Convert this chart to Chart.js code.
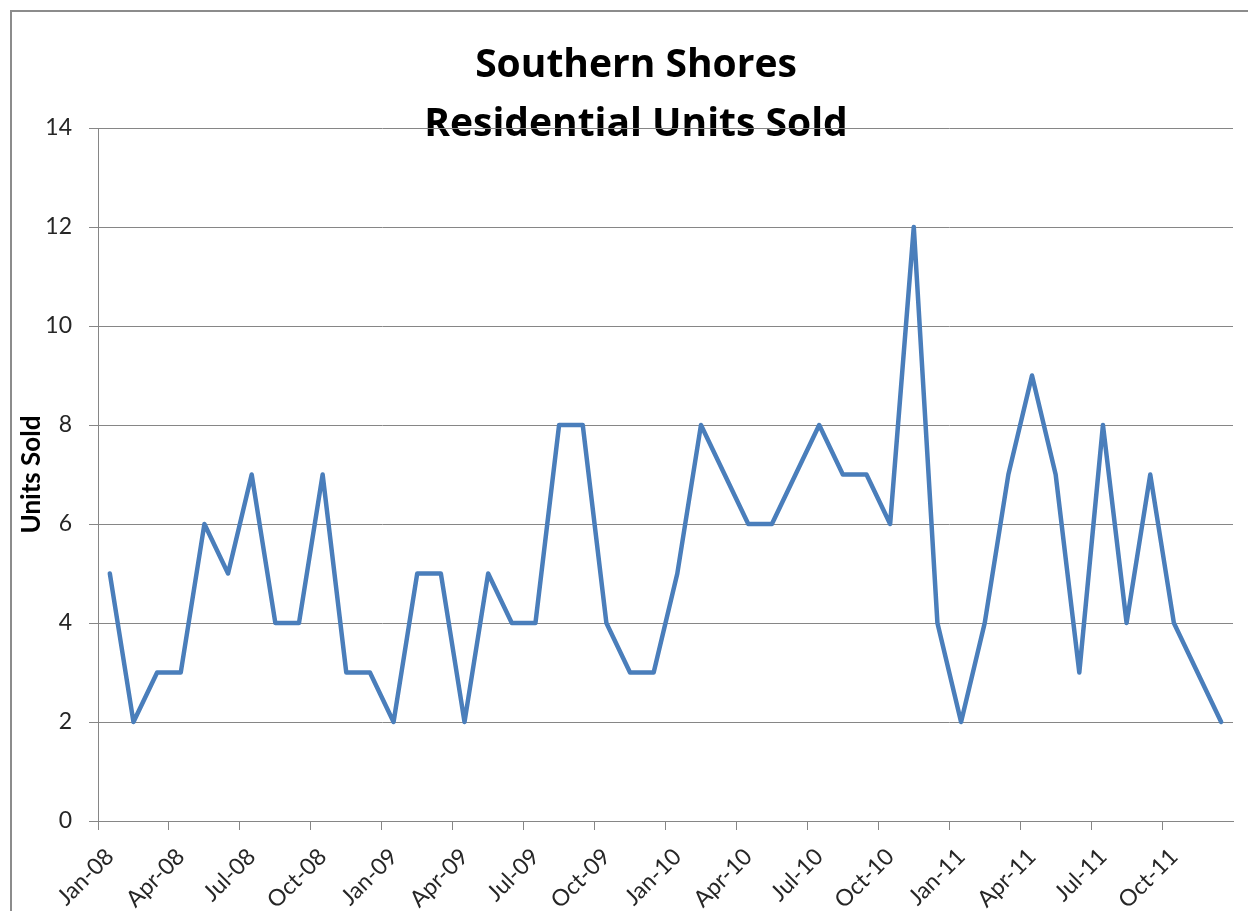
<!DOCTYPE html>
<html>
<head>
<meta charset="utf-8">
<script src="https://cdn.jsdelivr.net/npm/chart.js@4.4.1/dist/chart.umd.min.js"></script>
<style>
  html, body { margin: 0; padding: 0; background: #ffffff; }
  #wrap { width: 1248px; height: 911px; position: relative; }
  canvas { display: block; }
</style>
</head>
<body>
<div id="wrap"><canvas id="c" width="1248" height="911"></canvas></div>
<script>
const titleLines = ["Southern Shores", "Residential Units Sold"];
const yAxisTitle = "Units Sold";

const months = [
  "Jan-08","Feb-08","Mar-08","Apr-08","May-08","Jun-08","Jul-08","Aug-08","Sep-08","Oct-08","Nov-08","Dec-08",
  "Jan-09","Feb-09","Mar-09","Apr-09","May-09","Jun-09","Jul-09","Aug-09","Sep-09","Oct-09","Nov-09","Dec-09",
  "Jan-10","Feb-10","Mar-10","Apr-10","May-10","Jun-10","Jul-10","Aug-10","Sep-10","Oct-10","Nov-10","Dec-10",
  "Jan-11","Feb-11","Mar-11","Apr-11","May-11","Jun-11","Jul-11","Aug-11","Sep-11","Oct-11","Nov-11","Dec-11"
];

const unitsSold = [
  5, 2, 3, 3, 6, 5, 7, 4, 4, 7, 3, 3,
  2, 5, 5, 2, 5, 4, 4, 8, 8, 4, 3, 3,
  5, 8, 7, 6, 6, 7, 8, 7, 7, 6, 12, 4,
  2, 4, 7, 9, 7, 3, 8, 4, 7, 4, 3, 2
];

const yMin = 0, yMax = 14, yStep = 2;

const GRID = '#868686';
const FONT = 'Lato, "Open Sans", "DejaVu Sans", sans-serif';
const TITLE_FONT = '"Open Sans", Lato, sans-serif';

const backgroundAndTitle = {
  id: 'bgTitle',
  beforeDraw(chart) {
    const ctx = chart.ctx;
    ctx.save();
    ctx.fillStyle = '#ffffff';
    ctx.fillRect(0, 0, chart.width, chart.height);
    // outer chart border (cropped at right/bottom)
    ctx.strokeStyle = '#8c8c8c';
    ctx.lineWidth = 2;
    ctx.strokeRect(11, 11, 1300, 1000);
    // title: fit the longer line to the reference width
    ctx.font = 'bold 100px ' + TITLE_FONT;
    const w = ctx.measureText(titleLines[1]).width;
    const size = Math.round(100 * 423 / w);
    ctx.font = 'bold ' + size + 'px ' + TITLE_FONT;
    ctx.fillStyle = '#000000';
    ctx.textAlign = 'center';
    ctx.textBaseline = 'alphabetic';
    ctx.fillText(titleLines[0], 636, 77);
    ctx.fillText(titleLines[1], 636, 136);
    ctx.restore();
  }
};

new Chart(document.getElementById('c'), {
  type: 'line',
  data: {
    labels: months,
    datasets: [{
      data: unitsSold,
      borderColor: '#4A7EBB',
      borderWidth: 4.5,
      borderJoinStyle: 'round',
      borderCapStyle: 'round',
      pointRadius: 0,
      tension: 0,
      fill: false
    }]
  },
  options: {
    responsive: false,
    animation: false,
    devicePixelRatio: 1,
    layout: { padding: { left: 0, right: 15, top: 128, bottom: 0 } },
    plugins: {
      legend: { display: false },
      title: { display: false },
      tooltip: { enabled: false }
    },
    scales: {
      x: {
        type: 'category',
        offset: true,
        grid: {
          offset: true,
          drawOnChartArea: false,
          drawTicks: true,
          tickLength: 9,
          color: (c) => (c.index % 3 === 0 ? GRID : 'rgba(0,0,0,0)'),
          lineWidth: 1
        },
        border: { display: true, color: GRID, width: 1 },
        ticks: {
          autoSkip: false,
          maxRotation: 45,
          minRotation: 45,
          padding: 13,
          color: '#262626',
          font: { family: FONT, size: 23 },
          callback: function (value, index) {
            return index % 3 === 0 ? months[index] : '';
          }
        },
        afterFit(scale) {
          scale.height = 90;
          scale.paddingLeft = 0;
          scale.paddingRight = 0;
        }
      },
      y: {
        min: yMin,
        max: yMax,
        grid: {
          color: GRID,
          lineWidth: 1,
          drawTicks: true,
          tickLength: 9
        },
        border: { display: true, color: GRID, width: 1 },
        ticks: {
          stepSize: yStep,
          padding: 17,
          color: '#262626',
          font: { family: FONT, size: 23 }
        },
        title: {
          display: true,
          text: yAxisTitle,
          color: '#000000',
          font: { family: FONT, size: 26, weight: 'bold' },
          padding: { top: 16, bottom: 0 }
        },
        afterFit(scale) { scale.width = 98; }
      }
    }
  },
  plugins: [backgroundAndTitle]
});
</script>
</body>
</html>
